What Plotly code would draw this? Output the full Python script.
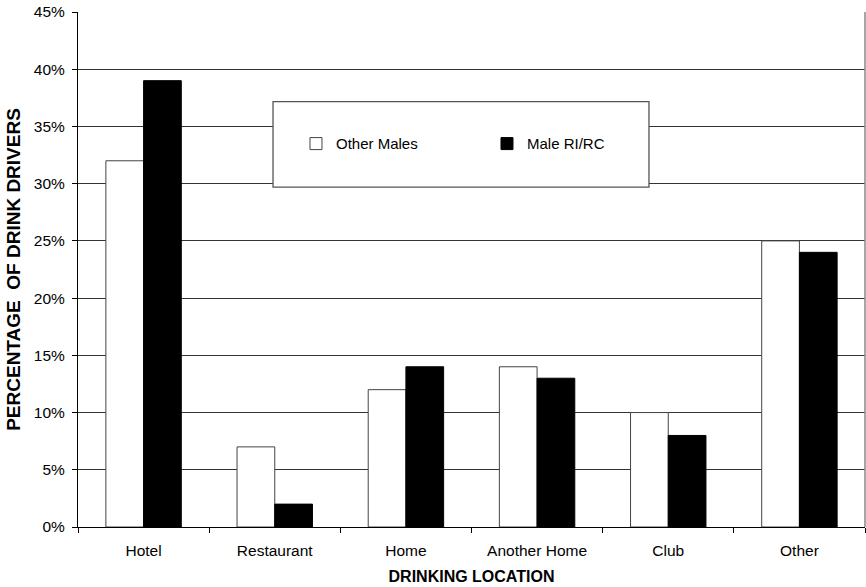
import plotly.graph_objects as go

categories = ["Hotel", "Restaurant", "Home", "Another Home", "Club", "Other"]
other_males = [0.32, 0.07, 0.12, 0.14, 0.10, 0.25]
male_ri_rc = [0.39, 0.02, 0.14, 0.13, 0.08, 0.24]
y_ticks = [0, 0.05, 0.10, 0.15, 0.20, 0.25, 0.30, 0.35, 0.40, 0.45]

FONT = "Liberation Sans, Arial, sans-serif"

fig = go.Figure()
fig.add_trace(go.Bar(
    x=categories, y=other_males, name="Other Males",
    marker=dict(color="white", line=dict(color="#444444", width=1)),
))
fig.add_trace(go.Bar(
    x=categories, y=male_ri_rc, name="Male RI/RC",
    marker=dict(color="black", line=dict(color="black", width=1)),
))

# legend box
fig.add_shape(type="rect", xref="paper", yref="paper",
              x0=0.2478, x1=0.7255, y0=0.660, y1=0.826,
              line=dict(color="#555555", width=1.3), fillcolor="white", layer="above")
# right border
fig.add_shape(type="line", xref="paper", yref="paper", x0=1, x1=1, y0=0, y1=1,
              line=dict(color="#888888", width=1.5))

fig.update_layout(
    width=866, height=587,
    margin=dict(l=78, r=1, t=12, b=60),
    paper_bgcolor="white", plot_bgcolor="white",
    barmode="group", bargap=0.425, bargroupgap=0,
    font=dict(family=FONT, size=15, color="black"),
    showlegend=True,
    legend=dict(orientation="h", x=0.277, xanchor="left", y=0.744, yanchor="middle",
                bgcolor="rgba(0,0,0,0)", borderwidth=0, entrywidth=146,
                font=dict(family=FONT, size=15, color="black"),
                itemclick=False),
    xaxis=dict(
        type="category", showline=True, linecolor="black", linewidth=1,
        ticks="outside", tickson="boundaries", ticklen=5, tickcolor="black",
        showgrid=False, tickfont=dict(family=FONT, size=15.5),
        ticklabelstandoff=9,
        title=dict(text="<b>DRINKING LOCATION</b>", font=dict(family=FONT, size=16), standoff=13),
    ),
    yaxis=dict(
        range=[0, 0.45], tickvals=y_ticks, tickformat=".0%",
        showline=True, linecolor="black", linewidth=1,
        ticks="outside", ticklen=5, tickcolor="black",
        showgrid=True, gridcolor="#333333", gridwidth=1, zeroline=False,
        tickfont=dict(family=FONT, size=15.5), ticklabelstandoff=4,
        title=dict(text="<b>PERCENTAGE \u00a0OF DRINK DRIVERS</b>", font=dict(family=FONT, size=19), standoff=8),
    ),
)

fig.write_html("out.html")
